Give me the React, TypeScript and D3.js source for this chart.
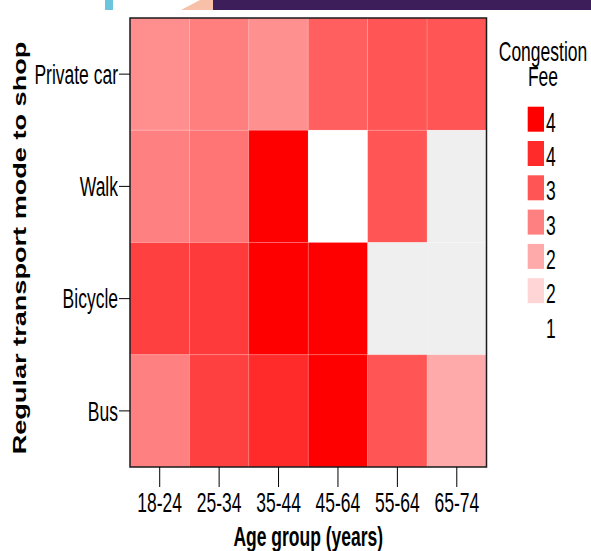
import React from "react";
import * as d3 from "d3";

const ageGroups = ["18-24", "25-34", "35-44", "45-64", "55-64", "65-74"];
const modes = ["Private car", "Walk", "Bicycle", "Bus"];
// mean congestion fee score per mode (rows) and age group (columns); null = no data
const privateCar = [2.32, 2.51, 2.31, 2.88, 3.0, 3.0];
const walk = [2.5, 2.62, 4.0, 1.0, 3.0, null];
const bicycle = [3.25, 3.32, 4.0, 4.0, null, null];
const bus = [2.5, 3.25, 3.5, 4.0, 3.0, 2.0];
const legendValues = [4, 3.5, 3, 2.5, 2, 1.5, 1];
const legendLabels = ["4", "4", "3", "3", "2", "2", "1"];

const rows: (number | null)[][] = [privateCar, walk, bicycle, bus];

const W = 591;
const H = 551;
const FS = 17.5;
const K = 1.55;
const FONT = "'Liberation Sans', Arial, sans-serif";

export default function App() {
  const left = 130, right = 486.5, top = 18, bottom = 467;
  const x = d3.scaleBand<string>().domain(ageGroups).range([left, right]);
  const y = d3.scaleBand<string>().domain(modes).range([top, bottom]);
  const color = d3
    .scaleLinear<string>()
    .domain([1, 4])
    .range(["#ffffff", "#ff0000"])
    .interpolate(d3.interpolateRgb);

  const cells: { m: string; a: string; v: number | null }[] = [];
  modes.forEach((m, i) =>
    ageGroups.forEach((a, j) => cells.push({ m, a, v: rows[i][j] }))
  );

  const txt = (
    key: string,
    tx: number,
    ty: number,
    s: string,
    anchor: string,
    bold = false,
    rotate = false
  ) => (
    <text
      key={key}
      transform={`translate(${tx},${ty}) scale(1,${K})${rotate ? " rotate(-90)" : ""}`}
      textAnchor={anchor}
      fontFamily={FONT}
      fontSize={FS}
      fontWeight={bold ? "bold" : "normal"}
      fill="#000"
    >
      {s}
    </text>
  );

  const capH = 0.716 * FS * K;
  const legX = 527.7, legW = 16.3, legH = 25, legY0 = 106.7, legStep = 34.3;

  return (
    <svg
      width={W}
      height={H}
      style={{ position: "absolute", left: 0, top: 0, background: "#fff" }}
    >
      {/* fragments of a neighbouring figure at the top edge */}
      <rect x={105} y={0} width={8} height={10} fill="#6cc5dd" />
      <polygon points="181,10 200,0 213,0 213,10" fill="#f8bfa9" />
      <rect x={213} y={0} width={W - 213} height={10} fill="#3d1e5b" />

      {cells.map((c) => (
        <rect
          key={c.m + c.a}
          x={x(c.a)}
          y={y(c.m)}
          width={x.bandwidth()}
          height={y.bandwidth()}
          fill={c.v == null ? "#efefef" : color(c.v)}
          stroke="rgba(255,255,255,0.18)"
          strokeWidth={0.8}
        />
      ))}
      <rect
        x={left}
        y={top}
        width={right - left}
        height={bottom - top}
        fill="none"
        stroke="#1a1a1a"
        strokeWidth={1.5}
      />

      {/* y axis */}
      {modes.map((m) => {
        const cy = (y(m) as number) + y.bandwidth() / 2;
        return (
          <g key={m}>
            <line x1={119} x2={left} y1={cy} y2={cy} stroke="#000" strokeWidth={1} />
            {txt("yl" + m, 118, cy + capH / 2, m, "end")}
          </g>
        );
      })}
      {txt("ytitle", 25.5, 248, "Regular transport mode to shop", "middle", true, true)}

      {/* x axis */}
      {ageGroups.map((a) => {
        const cx = (x(a) as number) + x.bandwidth() / 2;
        return (
          <g key={a}>
            <line x1={cx} x2={cx} y1={bottom} y2={487} stroke="#000" strokeWidth={1} />
            {txt("xl" + a, cx, 511.7, a, "middle")}
          </g>
        );
      })}
      {txt("xtitle", (left + right) / 2, 546, "Age group (years)", "middle", true)}

      {/* legend */}
      {txt("lt1", 543, 60.5, "Congestion", "middle")}
      {txt("lt2", 543, 86, "Fee", "middle")}
      {legendValues.map((v, i) => {
        const yy = legY0 + i * legStep;
        return (
          <g key={"lg" + i}>
            <rect x={legX} y={yy} width={legW} height={legH} fill={color(v)} />
            {txt("ll" + i, 546, yy + legH, legendLabels[i], "start")}
          </g>
        );
      })}
    </svg>
  );
}
